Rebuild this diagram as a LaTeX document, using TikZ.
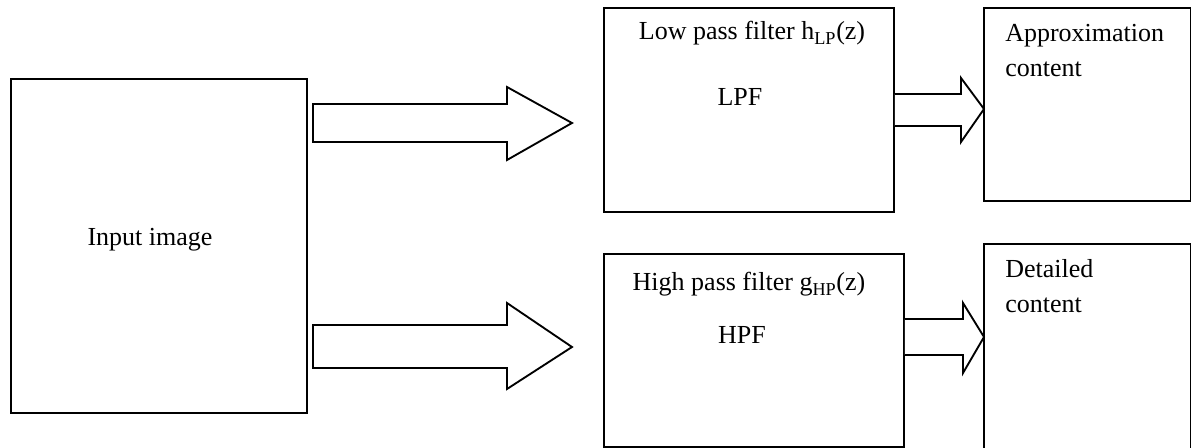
\documentclass[tikz,border=0pt]{standalone}
\usepackage{fontspec}
\setmainfont{Liberation Serif}
\begin{document}
\begin{tikzpicture}[x=0.75pt,y=-0.75pt,
  box/.style={draw=black,line width=1.4pt,fill=white,inner sep=0pt,anchor=north west},
  lbl/.style={font=\fontsize{19.5}{23}\selectfont,inner sep=0pt,anchor=base},
  lbll/.style={font=\fontsize{19.5}{23}\selectfont,inner sep=0pt,anchor=base west},
  blockarrow/.style={draw=black,line width=1.4pt,fill=white,line join=miter}]
\useasboundingbox (0,0) rectangle (1191,448);
\clip (0,0) rectangle (1191,448);
% boxes
\node[box,minimum width=222pt,minimum height=250.5pt] (in) at (10,78) {};
\node[box,minimum width=217.5pt,minimum height=153pt] (lpf) at (603,7) {};
\node[box,minimum width=225pt,minimum height=144.75pt] (hpf) at (603,253) {};
\node[box,minimum width=155.25pt,minimum height=144.75pt] (app) at (983,7) {};
\node[box,minimum width=155.25pt,minimum height=180pt] (det) at (983,243) {};
% texts
\node[lbl] (tin) at (150,246) {Input image};
\node[lbl] (tlpf) at (752,40) {Low pass filter h\textsubscript{LP}(z)};
\node[lbl] (slpf) at (740,106) {LPF};
\node[lbl] (thpf) at (749,291) {High pass filter g\textsubscript{HP}(z)};
\node[lbl] (shpf) at (742,344) {HPF};
\node[lbll] (tapp1) at (1005,42) {Approximation};
\node[lbll] (tapp2) at (1005,77) {content};
\node[lbll] (tdet1) at (1005,278) {Detailed};
\node[lbll] (tdet2) at (1005,313) {content};
% big block arrows
\draw[blockarrow] (313,104) -- (507,104) -- (507,87) -- (572,123) -- (507,160) -- (507,142) -- (313,142) -- cycle;
\draw[blockarrow] (313,325) -- (507,325) -- (507,303) -- (572,347) -- (507,389) -- (507,368) -- (313,368) -- cycle;
% small block arrows
\draw[blockarrow] (lpf.east |- 0,94) -- (961,94) -- (961,78) -- (984,109) -- (961,142) -- (961,126) -- (lpf.east |- 0,126);
\draw[blockarrow] (hpf.east |- 0,319) -- (963,319) -- (963,303) -- (984,337) -- (963,373) -- (963,355) -- (hpf.east |- 0,355);
\end{tikzpicture}
\end{document}
